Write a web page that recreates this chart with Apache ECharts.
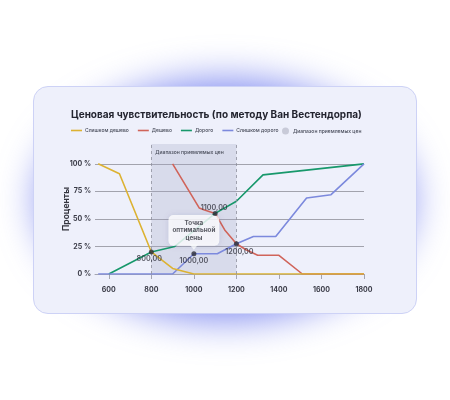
<!DOCTYPE html>
<html>
<head>
<meta charset="utf-8">
<script src="https://cdn.jsdelivr.net/npm/echarts@6/dist/echarts.min.js"></script>
<style>
  html, body { margin: 0; padding: 0; background: #ffffff; }
  #wrap { position: relative; width: 450px; height: 400px; overflow: hidden; background: #fff; }
  #glow { position: absolute; left: 40px; top: 82px; width: 370px; height: 236px; border-radius: 50%;
          background: rgba(92, 106, 236, 0.85); filter: blur(20px); }
  #card { position: absolute; left: 33px; top: 86px; width: 384px; height: 228px; border-radius: 15px;
          background: #eef0fb; border: 1px solid #cdd2f6; box-sizing: border-box; }
  #chart { position: absolute; left: 0; top: 0; width: 450px; height: 400px; }
</style>
</head>
<body>
<div id="wrap">
  <div id="glow"></div>
  <div id="card"></div>
  <div id="chart"></div>
</div>
<script>
// ---- data ----
const titleText = 'Ценовая чувствительность (по методу Ван Вестендорпа)';
const seriesNames = ['Слишком дешево', 'Дешево', 'Дорого', 'Слишком дорого'];
const rangeName = 'Диапазон приемлемых цен';
const yAxisName = 'Проценты';
const priceTicks = [600, 800, 1000, 1200, 1400, 1600, 1800];
const percentTicks = [0, 25, 50, 75, 100];

const tooCheap = [[550, 100], [650, 91], [800, 20], [900, 5], [1000, 0], [1800, 0]];
const cheap = [[900, 100], [1025, 60], [1050, 58], [1100, 55], [1145, 40], [1200, 27.5],
               [1245, 22], [1300, 17], [1400, 17], [1510, 0], [1800, 0]];
const expensive = [[600, 0], [800, 20], [910, 25], [1100, 55], [1200, 66], [1325, 90], [1800, 100]];
const tooExpensive = [[550, 0], [900, 0], [1000, 18.4], [1110, 18.4], [1200, 27.5], [1280, 34],
                      [1385, 34], [1530, 69], [1645, 72], [1800, 100]];

const acceptableRange = [800, 1200];
const keyPoints = [[800, 20], [1000, 18.4], [1100, 55], [1200, 27.5]];
const keyLabels = ['800,00', '1000,00', '1100,00', '1200,00'];
const optimalPointText = 'Точка\nоптимальной\nцены';

const colors = ['#dcb232', '#d0645a', '#17986b', '#7c89dd'];
const font = 'Inter, "Noto Sans", sans-serif';

const labelPos = ['bottom', 'bottom', 'top', 'bottom'];
const labelOffset = [[-2, -1], [0, -1], [-1, 2], [3, 0]];

const chart = echarts.init(document.getElementById('chart'), null, { renderer: 'canvas' });

const lineSeries = [tooCheap, cheap, expensive, tooExpensive].map((d, i) => ({
  name: seriesNames[i],
  type: 'line',
  data: d,
  showSymbol: false,
  symbol: 'none',
  z: i === 0 ? 4 : 3,
  lineStyle: { width: 1.6, color: colors[i] },
  itemStyle: { color: colors[i] },
  emphasis: { disabled: true }
}));

const option = {
  animation: false,
  textStyle: { fontFamily: font },
  title: {
    text: titleText, left: 71, top: 110, padding: 0,
    textStyle: { fontFamily: font, fontSize: 10, fontWeight: 700, color: '#23242f' }
  },
  legend: [
    {
      data: seriesNames.map(n => ({ name: n, icon: 'rect' })),
      left: 71, top: 128, itemWidth: 11, itemHeight: 1.6, itemGap: 9, padding: 0,
      textStyle: { fontFamily: font, fontSize: 5, fontWeight: 500, color: '#454957', padding: [0, 0, 0, -2] },
      selectedMode: false
    },
    {
      data: [{ name: rangeName, icon: 'circle' }],
      left: 282, top: 127.5, itemWidth: 7, itemHeight: 7, padding: 0,
      textStyle: { fontFamily: font, fontSize: 5, fontWeight: 500, color: '#454957', padding: [0, 0, 0, -1] },
      selectedMode: false
    }
  ],
  grid: { left: 95, right: 86, top: 144, bottom: 126, containLabel: false },
  xAxis: {
    type: 'value', min: 535, max: 1800,
    axisLine: { show: true, lineStyle: { color: '#a4a5b0', width: 1 } },
    axisTick: { show: true, length: 5, lineStyle: { color: '#a4a5b0' }, customValues: priceTicks },
    axisLabel: {
      customValues: priceTicks, margin: 12, fontFamily: font, fontSize: 7, fontWeight: 700, color: '#3a3b47',
      formatter: v => String(v)
    },
    splitLine: { show: false }
  },
  yAxis: {
    type: 'value', min: 0, max: 118, interval: 25,
    name: yAxisName, nameLocation: 'middle', nameGap: 24, nameMoveOverlap: false,
    nameTextStyle: { fontFamily: font, fontSize: 8.5, fontWeight: 700, color: '#34353f' },
    axisLine: { show: false }, axisTick: { show: false },
    axisLabel: {
      customValues: percentTicks, margin: 4, fontFamily: font, fontSize: 7, fontWeight: 700, color: '#3a3b47',
      formatter: v => v + ' %'
    },
    splitLine: { show: true, showMaxLine: false, lineStyle: { color: '#a2a3ad', width: 1 } }
  },
  series: [
    ...lineSeries,
    {
      name: rangeName, type: 'line', data: [], itemStyle: { color: '#c8cad8' },
      z: 1,
      markArea: {
        silent: true,
        itemStyle: { color: 'rgba(160,165,195,0.28)' },
        label: {
          show: true, position: [4, 6],
          formatter: rangeName, fontFamily: font, fontSize: 5, fontWeight: 500, color: '#454957'
        },
        data: [[{ xAxis: acceptableRange[0], yAxis: 118 }, { xAxis: acceptableRange[1], yAxis: 0 }]]
      },
      markLine: {
        silent: true, symbol: ['none', 'none'], label: { show: false },
        lineStyle: { type: [3, 3], color: '#8e8f9c', width: 0.8 },
        data: acceptableRange.map(v => ({ xAxis: v }))
      }
    },
    {
      name: 'callout', type: 'scatter', z: 6,
      data: [keyPoints[1]],
      symbol: 'triangle', symbolRotate: 180, symbolSize: [8, 5], symbolOffset: [0, -6.5],
      itemStyle: { color: '#ffffff' },
      label: {
        show: true, position: 'top', distance: -1,
        formatter: optimalPointText,
        fontFamily: font, fontSize: 6.3, fontWeight: 700, lineHeight: 7.6, color: '#30313c', align: 'center',
        backgroundColor: '#ffffff', borderRadius: 5, padding: [4, 4, 4, 4],
        shadowBlur: 6, shadowColor: 'rgba(60,70,130,0.18)'
      }
    },
    {
      name: 'points', type: 'scatter', z: 7,
      data: keyPoints.map((p, i) => ({
        value: p,
        label: { position: labelPos[i], offset: labelOffset[i] }
      })),
      symbol: 'circle', symbolSize: 5,
      itemStyle: { color: '#2b2c36' },
      label: {
        show: true, distance: 2,
        formatter: p => keyLabels[p.dataIndex],
        fontFamily: font, fontSize: 7.2, fontWeight: 600, color: '#30313c'
      }
    }
  ]
};
chart.setOption(option);
</script>
</body>
</html>
